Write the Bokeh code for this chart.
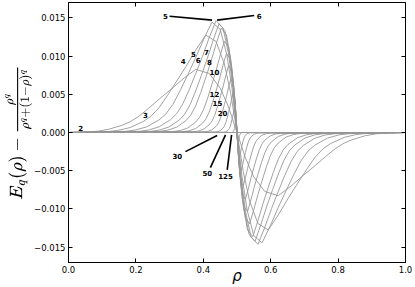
from bokeh.plotting import figure
from bokeh.models import ColumnDataSource, FixedTicker, CustomJSTickFormatter, LinearAxis, TeX, Range1d
from bokeh.embed import file_html
from bokeh.resources import INLINE
from bokeh.core.properties import value

# ---------------- data ----------------
x_ticks = [0.0, 0.2, 0.4, 0.6, 0.8, 1.0]
y_ticks = [-0.015, -0.010, -0.005, 0.0, 0.005, 0.010, 0.015]

rho_2 = [0.0, 1.0]
d_2 = [0.0, 0.0]

rho_3 = [0.0, 0.0650, 0.0884, 0.1192, 0.1589, 0.1824, 0.2086, 0.2375, 0.2689, 0.3029, 0.3392, 0.3775, 0.4174, 0.4502, 0.4750, 0.5,
         0.5250, 0.5498, 0.5826, 0.6225, 0.6608, 0.6971, 0.7311, 0.7625, 0.7914, 0.8176, 0.8411, 0.8808, 0.9116, 0.9350, 1.0]
d_3 = [0.0, 0.00008, 0.00018, 0.00042, 0.00095, 0.00139, 0.00212, 0.00316, 0.00435, 0.00560, 0.00699, 0.00826, 0.00772, 0.00581, 0.00332, 0.0,
       -0.00332, -0.00581, -0.00772, -0.00826, -0.00699, -0.00560, -0.00435, -0.00316, -0.00212, -0.00139, -0.00095, -0.00042, -0.00018, -0.00008, 0.0]

rho_4 = [0.0, 0.1192, 0.1480, 0.1824, 0.2227, 0.2451, 0.2689, 0.2942, 0.3208, 0.3487, 0.3775, 0.4073, 0.4378, 0.4626, 0.4813, 0.5,
         0.5187, 0.5374, 0.5622, 0.5927, 0.6225, 0.6513, 0.6792, 0.7058, 0.7311, 0.7549, 0.7773, 0.8176, 0.8520, 0.8808, 1.0]
d_4 = [0.0, 0.00013, 0.00028, 0.00064, 0.00146, 0.00214, 0.00326, 0.00488, 0.00671, 0.00864, 0.01078, 0.01274, 0.01190, 0.00896, 0.00512, 0.0,
       -0.00512, -0.00896, -0.01190, -0.01274, -0.01078, -0.00864, -0.00671, -0.00488, -0.00326, -0.00214, -0.00146, -0.00064, -0.00028, -0.00013, 0.0]

rho_5 = [0.0, 0.1680, 0.1978, 0.2315, 0.2689, 0.2891, 0.3100, 0.3318, 0.3543, 0.3775, 0.4013, 0.4255, 0.4502, 0.4700, 0.4850, 0.5,
         0.5150, 0.5300, 0.5498, 0.5745, 0.5987, 0.6225, 0.6457, 0.6682, 0.6900, 0.7109, 0.7311, 0.7685, 0.8022, 0.8320, 1.0]
d_5 = [0.0, 0.00015, 0.00032, 0.00073, 0.00165, 0.00242, 0.00370, 0.00552, 0.00760, 0.00979, 0.01221, 0.01443, 0.01349, 0.01015, 0.00580, 0.0,
       -0.00580, -0.01015, -0.01349, -0.01443, -0.01221, -0.00979, -0.00760, -0.00552, -0.00370, -0.00242, -0.00165, -0.00073, -0.00032, -0.00015, 0.0]

rho_6 = [0.0, 0.2086, 0.2375, 0.2689, 0.3029, 0.3208, 0.3392, 0.3582, 0.3775, 0.3973, 0.4174, 0.4378, 0.4584, 0.4750, 0.4875, 0.5,
         0.5125, 0.5250, 0.5416, 0.5622, 0.5826, 0.6027, 0.6225, 0.6418, 0.6608, 0.6792, 0.6971, 0.7311, 0.7625, 0.7914, 1.0]
d_6 = [0.0, 0.00015, 0.00032, 0.00074, 0.00168, 0.00245, 0.00375, 0.00560, 0.00770, 0.00992, 0.01238, 0.01463, 0.01367, 0.01029, 0.00588, 0.0,
       -0.00588, -0.01029, -0.01367, -0.01463, -0.01238, -0.00992, -0.00770, -0.00560, -0.00375, -0.00245, -0.00168, -0.00074, -0.00032, -0.00015, 0.0]

rho_7 = [0.0, 0.2418, 0.2689, 0.2979, 0.3286, 0.3446, 0.3609, 0.3775, 0.3945, 0.4117, 0.4291, 0.4466, 0.4643, 0.4786, 0.4893, 0.5,
         0.5107, 0.5214, 0.5357, 0.5534, 0.5709, 0.5883, 0.6055, 0.6225, 0.6391, 0.6554, 0.6714, 0.7021, 0.7311, 0.7582, 1.0]
d_7 = [0.0, 0.00014, 0.00031, 0.00072, 0.00163, 0.00239, 0.00365, 0.00545, 0.00749, 0.00965, 0.01204, 0.01423, 0.01330, 0.01001, 0.00572, 0.0,
       -0.00572, -0.01001, -0.01330, -0.01423, -0.01204, -0.00965, -0.00749, -0.00545, -0.00365, -0.00239, -0.00163, -0.00072, -0.00031, -0.00014, 0.0]

rho_8 = [0.0, 0.2689, 0.2942, 0.3208, 0.3487, 0.3630, 0.3775, 0.3923, 0.4073, 0.4225, 0.4378, 0.4533, 0.4688, 0.4813, 0.4906, 0.5,
         0.5094, 0.5187, 0.5312, 0.5467, 0.5622, 0.5775, 0.5927, 0.6077, 0.6225, 0.6370, 0.6513, 0.6792, 0.7058, 0.7311, 1.0]
d_8 = [0.0, 0.00014, 0.00030, 0.00069, 0.00156, 0.00229, 0.00349, 0.00522, 0.00718, 0.00925, 0.01154, 0.01363, 0.01274, 0.00959, 0.00548, 0.0,
       -0.00548, -0.00959, -0.01274, -0.01363, -0.01154, -0.00925, -0.00718, -0.00522, -0.00349, -0.00229, -0.00156, -0.00069, -0.00030, -0.00014, 0.0]

rho_10 = [0.0, 0.3100, 0.3318, 0.3543, 0.3775, 0.3894, 0.4013, 0.4134, 0.4255, 0.4378, 0.4502, 0.4626, 0.4750, 0.4850, 0.4925, 0.5,
          0.5075, 0.5150, 0.5250, 0.5374, 0.5498, 0.5622, 0.5745, 0.5866, 0.5987, 0.6106, 0.6225, 0.6457, 0.6682, 0.6900, 1.0]
d_10 = [0.0, 0.00012, 0.00026, 0.00060, 0.00137, 0.00200, 0.00306, 0.00457, 0.00629, 0.00810, 0.01010, 0.01194, 0.01116, 0.00840, 0.00480, 0.0,
        -0.00480, -0.00840, -0.01116, -0.01194, -0.01010, -0.00810, -0.00629, -0.00457, -0.00306, -0.00200, -0.00137, -0.00060, -0.00026, -0.00012, 0.0]

rho_12 = [0.0, 0.3392, 0.3582, 0.3775, 0.3973, 0.4073, 0.4174, 0.4276, 0.4378, 0.4481, 0.4584, 0.4688, 0.4792, 0.4875, 0.4938, 0.5,
          0.5062, 0.5125, 0.5208, 0.5312, 0.5416, 0.5519, 0.5622, 0.5724, 0.5826, 0.5927, 0.6027, 0.6225, 0.6418, 0.6608, 1.0]
d_12 = [0.0, 0.00010, 0.00023, 0.00052, 0.00119, 0.00174, 0.00265, 0.00396, 0.00545, 0.00702, 0.00876, 0.01035, 0.00967, 0.00728, 0.00416, 0.0,
        -0.00416, -0.00728, -0.00967, -0.01035, -0.00876, -0.00702, -0.00545, -0.00396, -0.00265, -0.00174, -0.00119, -0.00052, -0.00023, -0.00010, 0.0]

rho_15 = [0.0, 0.3697, 0.3854, 0.4013, 0.4174, 0.4255, 0.4337, 0.4419, 0.4502, 0.4584, 0.4667, 0.4750, 0.4833, 0.4900, 0.4950, 0.5,
          0.5050, 0.5100, 0.5167, 0.5250, 0.5333, 0.5416, 0.5498, 0.5581, 0.5663, 0.5745, 0.5826, 0.5987, 0.6146, 0.6303, 1.0]
d_15 = [0.0, 0.00009, 0.00019, 0.00044, 0.00100, 0.00147, 0.00224, 0.00335, 0.00461, 0.00594, 0.00741, 0.00876, 0.00818, 0.00616, 0.00352, 0.0,
        -0.00352, -0.00616, -0.00818, -0.00876, -0.00741, -0.00594, -0.00461, -0.00335, -0.00224, -0.00147, -0.00100, -0.00044, -0.00019, -0.00009, 0.0]

rho_20 = [0.0, 0.4013, 0.4134, 0.4255, 0.4378, 0.4440, 0.4502, 0.4564, 0.4626, 0.4688, 0.4750, 0.4813, 0.4875, 0.4925, 0.4963, 0.5,
          0.5037, 0.5075, 0.5125, 0.5187, 0.5250, 0.5312, 0.5374, 0.5436, 0.5498, 0.5560, 0.5622, 0.5745, 0.5866, 0.5987, 1.0]
d_20 = [0.0, 0.00007, 0.00015, 0.00035, 0.00080, 0.00117, 0.00179, 0.00267, 0.00367, 0.00473, 0.00589, 0.00697, 0.00651, 0.00490, 0.00280, 0.0,
        -0.00280, -0.00490, -0.00651, -0.00697, -0.00589, -0.00473, -0.00367, -0.00267, -0.00179, -0.00117, -0.00080, -0.00035, -0.00015, -0.00007, 0.0]

rho_30 = [0.0, 0.4337, 0.4419, 0.4502, 0.4585, 0.4626, 0.4667, 0.4709, 0.4750, 0.4792, 0.4833, 0.4875, 0.4917, 0.4950, 0.4975, 0.5,
          0.5025, 0.5050, 0.5083, 0.5125, 0.5167, 0.5208, 0.5250, 0.5291, 0.5333, 0.5374, 0.5415, 0.5498, 0.5581, 0.5663, 1.0]
d_30 = [0.0, 0.00005, 0.00011, 0.00025, 0.00057, 0.00084, 0.00128, 0.00191, 0.00262, 0.00338, 0.00421, 0.00498, 0.00465, 0.00350, 0.00200, 0.0,
        -0.00200, -0.00350, -0.00465, -0.00498, -0.00421, -0.00338, -0.00262, -0.00191, -0.00128, -0.00084, -0.00057, -0.00025, -0.00011, -0.00005, 0.0]

rho_50 = [0.0, 0.4601, 0.4651, 0.4700, 0.4750, 0.4775, 0.4800, 0.4825, 0.4850, 0.4875, 0.4900, 0.4925, 0.4950, 0.4970, 0.4985, 0.5,
          0.5015, 0.5030, 0.5050, 0.5075, 0.5100, 0.5125, 0.5150, 0.5175, 0.5200, 0.5225, 0.5250, 0.5300, 0.5349, 0.5399, 1.0]
d_50 = [0.0, 0.00003, 0.00007, 0.00016, 0.00036, 0.00053, 0.00082, 0.00122, 0.00168, 0.00216, 0.00269, 0.00318, 0.00298, 0.00224, 0.00128, 0.0,
        -0.00128, -0.00224, -0.00298, -0.00318, -0.00269, -0.00216, -0.00168, -0.00122, -0.00082, -0.00053, -0.00036, -0.00016, -0.00007, -0.00003, 0.0]

rho_125 = [0.0, 0.4840, 0.4860, 0.4880, 0.4900, 0.4910, 0.4920, 0.4930, 0.4940, 0.4950, 0.4960, 0.4970, 0.4980, 0.4988, 0.4994, 0.5,
           0.5006, 0.5012, 0.5020, 0.5030, 0.5040, 0.5050, 0.5060, 0.5070, 0.5080, 0.5090, 0.5100, 0.5120, 0.5140, 0.5160, 1.0]
d_125 = [0.0, 0.00001, 0.00003, 0.00007, 0.00016, 0.00023, 0.00036, 0.00053, 0.00073, 0.00095, 0.00118, 0.00139, 0.00130, 0.00098, 0.00056, 0.0,
         -0.00056, -0.00098, -0.00130, -0.00139, -0.00118, -0.00095, -0.00073, -0.00053, -0.00036, -0.00023, -0.00016, -0.00007, -0.00003, -0.00001, 0.0]

# curve labels (q values) and their positions
label_text = ["2", "3", "4", "5", "6", "7", "8", "10", "12", "15", "20", "5", "6", "30", "50", "125"]
label_x = [0.036, 0.228, 0.340, 0.371, 0.385, 0.409, 0.418, 0.433, 0.433, 0.442, 0.457, 0.288, 0.566, 0.323, 0.412, 0.466]
label_y = [0.0006, 0.0023, 0.0094, 0.0103, 0.0095, 0.0105, 0.0092, 0.0079, 0.0051, 0.0038, 0.0025, 0.0153, 0.0153, -0.0031, -0.0053, -0.0057]

# pointer lines from labels to curves
ptr_x0 = [0.300, 0.551, 0.347, 0.421, 0.471]
ptr_y0 = [0.0152, 0.0153, -0.0025, -0.0046, -0.0049]
ptr_x1 = [0.426, 0.441, 0.441, 0.466, 0.484]
ptr_y1 = [0.0147, 0.0147, -0.0004, -0.0003, -0.0003]

curves_rho = [rho_2, rho_3, rho_4, rho_5, rho_6, rho_7, rho_8, rho_10, rho_12, rho_15, rho_20, rho_30, rho_50, rho_125]
curves_d = [d_2, d_3, d_4, d_5, d_6, d_7, d_8, d_10, d_12, d_15, d_20, d_30, d_50, d_125]

# ---------------- figure ----------------
p = figure(width=415, height=287, x_range=Range1d(0, 1), y_range=Range1d(-0.017, 0.017),
           output_backend="svg", toolbar_location=None,
           min_border_left=68, min_border_right=10, min_border_top=2, min_border_bottom=0)
p.grid.visible = False
p.outline_line_color = "black"
p.outline_line_width = 1
p.background_fill_color = "white"
p.border_fill_color = "white"

xt = FixedTicker(ticks=x_ticks)
yt = FixedTicker(ticks=y_ticks)


def style_axis(ax):
    ax.major_tick_in = 4
    ax.major_tick_out = 0
    ax.minor_tick_in = 0
    ax.minor_tick_out = 0
    ax.axis_line_color = "black"
    ax.major_tick_line_color = "black"
    ax.major_label_text_font = "DejaVu Sans"
    ax.major_label_text_font_size = "8.5px"
    ax.major_label_text_color = "black"
    ax.major_label_standoff = 3


xax = p.xaxis[0]
yax = p.yaxis[0]
xax.ticker = xt
yax.ticker = yt
xax.formatter = CustomJSTickFormatter(code="return tick.toFixed(1);")
yax.formatter = CustomJSTickFormatter(code="return (tick < -1e-9 ? '\u2212' : '') + Math.abs(tick).toFixed(3);")
style_axis(xax)
style_axis(yax)
xax.axis_label = "ρ"
xax.axis_label_text_font = "DejaVu Sans"
xax.axis_label_text_font_style = "italic"
xax.axis_label_text_font_size = "15px"
xax.axis_label_text_color = "black"
xax.axis_label_standoff = -9
yax.axis_label = TeX(text=r"E_q(\rho) - \frac{\rho^q}{\rho^q+(1-\rho)^q}", inline=True)
yax.axis_label_text_font_size = "15px"
yax.axis_label_text_color = "black"
yax.axis_label_standoff = -1

top_ax = LinearAxis(ticker=xt, formatter=CustomJSTickFormatter(code="return '';"))
right_ax = LinearAxis(ticker=yt, formatter=CustomJSTickFormatter(code="return '';"))
for ax in (top_ax, right_ax):
    style_axis(ax)
    ax.major_label_standoff = 0
    ax.major_label_text_font_size = "0px"
p.add_layout(top_ax, "above")
p.add_layout(right_ax, "right")

p.multi_line(xs=curves_rho, ys=curves_d, line_color="#979797", line_width=0.9)

p.segment(x0=ptr_x0, y0=ptr_y0, x1=ptr_x1, y1=ptr_y1, line_color="black", line_width=1.6)

src = ColumnDataSource(dict(x=label_x, y=label_y, text=label_text))
p.text(x="x", y="y", text="text", source=src, text_font=value("DejaVu Sans"),
       text_font_style="bold", text_font_size="7px", text_align="center",
       text_baseline="middle", text_color="black")

open("out.html", "w").write(file_html(p, INLINE))
